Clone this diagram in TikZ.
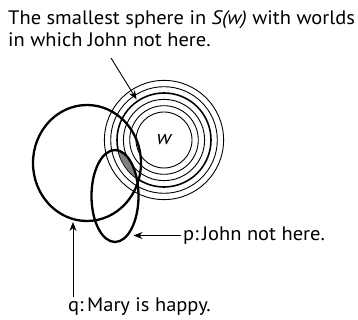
\documentclass[tikz,border=0pt]{standalone}
\usepackage{fontspec}
\setmainfont[FakeStretch=1.05]{PT Sans}
\usetikzlibrary{arrows.meta,calc}
\begin{document}
\begin{tikzpicture}[x=1pt,y=-1pt,
  thinring/.style={line width=0.9pt},
  thickring/.style={line width=1.6pt},
  region/.style={line width=2.3pt},
  pointer/.style={line width=0.9pt,-{Stealth[length=9pt,width=7pt]}},
  lbl/.style={font=\fontsize{19.5}{22}\selectfont, inner sep=0pt, anchor=base west}]
\useasboundingbox (0,0) rectangle (358,320);
\coordinate (wc) at (164,140);
\foreach \r in {28,34.3,40.6,53.3,59.6} \draw[thinring] (wc) circle[radius=\r];
\draw[thickring] (wc) circle[radius=47];
\begin{scope}
  \clip (115,196) ellipse[x radius=23.5,y radius=46];
  \fill[gray] (wc) circle[radius=47];
\end{scope}
\draw[region] (87,163) ellipse[x radius=54,y radius=58];
\draw[region] (115,196) ellipse[x radius=23.5,y radius=46];
\node[font=\fontsize{20}{22}\selectfont\itshape, inner sep=0pt] (w) at (164,140) {w};
\node[lbl] (t1) at (8,25) {The smallest sphere in \textit{S(w)} with worlds};
\node[lbl] (t2) at (8,46.7) {in which John not here.};
\node[lbl] (p) at (183,240) {p:\hspace{3.5pt}John not here.};
\node[lbl] (q) at (68,311.7) {q:\hspace{3.5pt}Mary is happy.};
\coordinate (a1s) at (111,58);
\coordinate (a1e) at ($(wc)+(-124:49)$);
\draw[pointer] (a1s) -- (a1e);
\coordinate (pa) at (181,235.5);
\coordinate (pe) at (133.5,235.5);
\draw[pointer] (pa) -- (pe);
\coordinate (qa) at (73,297);
\coordinate (qe) at (73,222);
\draw[pointer] (qa) -- (qe);
\end{tikzpicture}
\end{document}
